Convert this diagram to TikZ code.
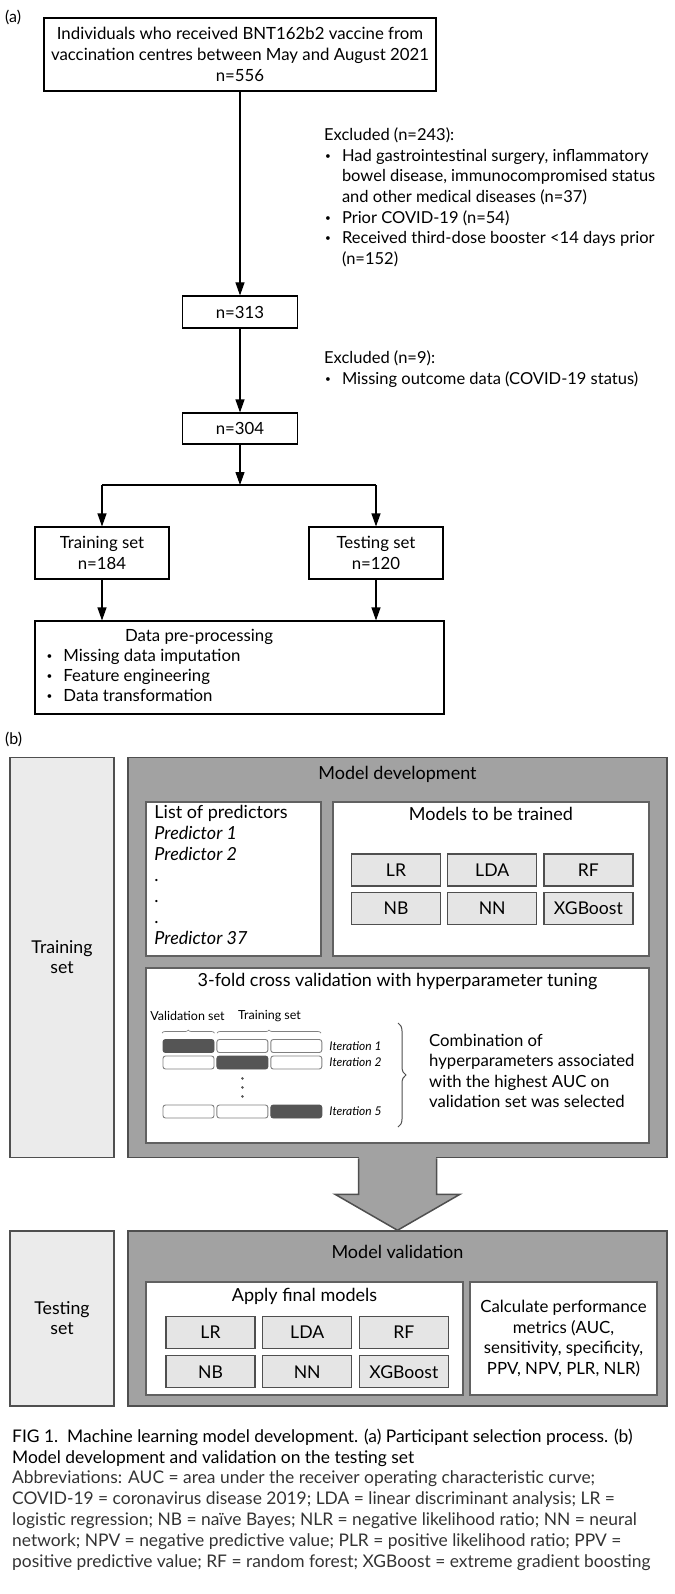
\documentclass[tikz,border=0pt]{standalone}
\usepackage{fontspec}
\setmainfont{Lato}
\usetikzlibrary{arrows.meta,positioning,decorations.pathreplacing}

\definecolor{linegray}{HTML}{4F4F4F}
\definecolor{panelgray}{HTML}{A2A2A2}
\definecolor{sidegray}{HTML}{EBEBEB}
\definecolor{cellgray}{HTML}{E5E5E5}
\definecolor{foldgray}{HTML}{555555}

\newcommand{\listdot}{\raisebox{1.8pt}{\fontsize{10}{10}\selectfont\textbullet}}

\tikzset{
  flowbox/.style={draw,line width=1.1pt,align=center,inner sep=0pt,font=\fontsize{16.8}{21}\selectfont},
  flowarrow/.style={line width=1.1pt,-{Triangle[length=13pt,width=9pt]}},
  sidebox/.style={draw=linegray,fill=sidegray,line width=1.5pt,minimum width=104pt,align=center,inner sep=0pt,font=\fontsize{17.7}{20}\selectfont},
  panelbox/.style={draw=linegray,fill=panelgray,line width=1.5pt,minimum width=539pt,inner sep=0pt},
  whitebox/.style={draw=linegray!90,fill=white,line width=1.5pt,inner sep=0pt},
  modelcell/.style={draw=linegray,fill=cellgray,line width=1.2pt,minimum width=89pt,minimum height=32pt,inner sep=0pt,font=\fontsize{17.6}{17.6}\selectfont},
  foldcell/.style={draw=gray,fill=white,rounded corners=2.5pt,line width=0.9pt,minimum width=51pt,minimum height=13pt,inner sep=0pt},
  foldval/.style={foldcell,fill=foldgray,draw=foldgray},
  itlabel/.style={anchor=west,inner sep=0pt,font=\fontsize{12}{13}\selectfont\itshape},
  boxtitle/.style={inner sep=0pt,font=\fontsize{18}{20}\selectfont}
}

\begin{document}
\begin{tikzpicture}[x=1pt,y=-1pt]
\useasboundingbox (0,0) rectangle (674,1594);

% (a) participant selection
\node[anchor=west,inner sep=0pt,font=\fontsize{16}{16}\selectfont] (lbla) at (5,17) {(a)};
\node[flowbox,minimum width=392pt,minimum height=73pt] (start) at (240,54.5) {Individuals who received BNT162b2 vaccine from\\vaccination centres between May and August 2021\\n=556};
\node[flowbox,minimum width=115pt,minimum height=32pt] (count1) at (240,312) {n=313};
\node[flowbox,minimum width=115pt,minimum height=31pt] (count2) at (240,428.5) {n=304};
\coordinate (split) at (240,485);
\node[flowbox,minimum width=134pt,minimum height=52pt] (trainset) at (102,553) {Training set\\n=184};
\node[flowbox,minimum width=134pt,minimum height=52pt] (testset) at (376,553) {Testing set\\n=120};
\node[flowbox,minimum width=409pt,minimum height=93pt] (preproc) at (239.5,667.5) {};
\node[inner sep=0pt,font=\fontsize{16.8}{21}\selectfont] (preproctitle) at ([xshift=-40.5pt,yshift=-16pt]preproc.north) {Data pre-processing};
\node[anchor=north west,inner sep=0pt,font=\fontsize{16.8}{20}\selectfont] (preproclist) at ([xshift=12pt,yshift=-27pt]preproc.north west)
  {\begin{tabular}{@{}c@{\hspace{11pt}}l@{}}
   \listdot & Missing data imputation\\
   \listdot & Feature engineering\\
   \listdot & Data transformation
   \end{tabular}};

\node[anchor=north west,inner sep=0pt,font=\fontsize{16.5}{20.6}\selectfont] (excl1) at (324,126)
  {\begin{tabular}{@{\hspace{1pt}}c@{\hspace{11pt}}l@{}}
   \multicolumn{2}{@{}l@{}}{Excluded (n=243):}\\
   \listdot & Had gastrointestinal surgery, inflammatory\\
   & bowel disease, immunocompromised status\\
   & and other medical diseases (n=37)\\
   \listdot & Prior COVID-19 (n=54)\\
   \listdot & Received third-dose booster <14 days prior\\
   & (n=152)
   \end{tabular}};
\node[anchor=north west,inner sep=0pt,font=\fontsize{16.5}{20.6}\selectfont] (excl2) at (324,349)
  {\begin{tabular}{@{\hspace{1pt}}c@{\hspace{11pt}}l@{}}
   \multicolumn{2}{@{}l@{}}{Excluded (n=9):}\\
   \listdot & Missing outcome data (COVID-19 status)
   \end{tabular}};

\path[flowarrow]
  (start) edge (count1)
  (count1) edge (count2);
\draw[flowarrow] (count2) -- (split);
\draw[line width=1.1pt] (trainset.north |- split) -- (testset.north |- split);
\draw[flowarrow] (trainset.north |- split) -- (trainset);
\draw[flowarrow] (testset.north |- split) -- (testset);
\draw[flowarrow] (trainset) -- (trainset.south |- preproc.north);
\draw[flowarrow] (testset) -- (testset.south |- preproc.north);

% (b) model development
\node[anchor=west,inner sep=0pt,font=\fontsize{16}{16}\selectfont] (lblb) at (5,739) {(b)};
\node[sidebox,minimum height=400pt] (trainside) at (62,957.5) {Training\\set};
\node[panelbox,minimum height=400pt] (devbox) at (397.5,957.5) {};
\node[boxtitle] (devtitle) at ([yshift=-18pt]devbox.north) {Model development};

\node[whitebox,minimum width=175pt,minimum height=154pt] (predbox) at (233.5,879) {};
\node[anchor=north west,inner sep=0pt,font=\fontsize{18}{21}\selectfont] (predlist) at ([xshift=9pt,yshift=-2.5pt]predbox.north west)
  {\begin{tabular}{@{}l@{}}
   List of predictors\\
   \textit{Predictor 1}\\
   \textit{Predictor 2}\\
   .\\
   .\\
   .\\
   \textit{Predictor 37}
   \end{tabular}};

\node[whitebox,minimum width=316pt,minimum height=154pt] (modbox) at (491,879) {};
\node[boxtitle] (modtitle) at ([yshift=-13pt]modbox.north) {Models to be trained};
\node[modelcell] (lr1) at (396,870) {LR};
\node[modelcell,right=6pt of lr1] (lda1) {LDA};
\node[modelcell,right=6pt of lda1] (rf1) {RF};
\node[modelcell,below=5pt of lr1] (nb1) {NB};
\node[modelcell,below=5pt of lda1] (nn1) {NN};
\node[modelcell,below=5pt of rf1] (xgb1) {XGBoost};

\node[whitebox,minimum width=503pt,minimum height=175pt] (cvbox) at (397.5,1055.5) {};
\node[boxtitle] (cvtitle) at ([yshift=-14pt]cvbox.north) {3-fold cross validation with hyperparameter tuning};
\node[font=\fontsize{12.5}{14}\selectfont,inner sep=0pt] (vallbl) at (187.5,1016) {Validation set};
\node[font=\fontsize{12.5}{14}\selectfont,inner sep=0pt] (trainlbl) at (269.5,1016) {Training set};
\draw[gray,line width=0.7pt,decorate,decoration={brace,amplitude=3pt}] (162,1033) -- (214.5,1033);
\draw[gray,line width=0.7pt,decorate,decoration={brace,amplitude=3pt}] (217,1033) -- (321,1033);

\node[foldval] (f11) at (188.5,1046) {};
\node[foldcell,right=2pt of f11] (f12) {};
\node[foldcell,right=2pt of f12] (f13) {};
\node[foldcell] (f21) at (188.5,1062.5) {};
\node[foldval,right=2pt of f21] (f22) {};
\node[foldcell,right=2pt of f22] (f23) {};
\node[foldcell] (f51) at (188.5,1111.5) {};
\node[foldcell,right=2pt of f51] (f52) {};
\node[foldval,right=2pt of f52] (f53) {};
\node[itlabel] at ([xshift=7pt]f13.east) {Iteration 1};
\node[itlabel] at ([xshift=7pt]f23.east) {Iteration 2};
\node[itlabel] at ([xshift=7pt]f53.east) {Iteration 5};
\fill[foldgray] ([yshift=-9pt]f22.south) circle (1.4pt);
\fill[foldgray] ([yshift=-18pt]f22.south) circle (1.4pt);
\fill[foldgray] ([yshift=-27pt]f22.south) circle (1.4pt);

\draw[linegray,line width=1pt,decorate,decoration={brace,amplitude=8pt}] (398,1023) -- (398,1127);
\node[anchor=north west,inner sep=0pt,font=\fontsize{16.7}{20.4}\selectfont] (combtext) at (429,1032)
  {\begin{tabular}{@{}l@{}}
   Combination of\\
   hyperparameters associated\\
   with the highest AUC on\\
   validation set was selected
   \end{tabular}};

% model validation
\node[sidebox,minimum height=175pt] (testside) at (62,1318.5) {Testing\\set};
\node[panelbox,minimum height=175pt] (valbox) at (397.5,1318.5) {};
\node[boxtitle] (valtitle) at ([yshift=-22pt]valbox.north) {Model validation};

\fill[panelgray] ([xshift=-38.3pt,yshift=2pt]devbox.south) rectangle ([xshift=38.3pt,yshift=-36pt]devbox.south);
\draw[linegray,line width=1.5pt,fill=panelgray] ([xshift=-39pt]devbox.south) -- ([xshift=-39pt,yshift=-36pt]devbox.south)
  -- ([xshift=-62.5pt,yshift=-36pt]devbox.south) -- (valbox.north)
  -- ([xshift=62.5pt,yshift=-36pt]devbox.south) -- ([xshift=39pt,yshift=-36pt]devbox.south)
  -- ([xshift=39pt]devbox.south);

\node[whitebox,minimum width=317pt,minimum height=113pt] (applybox) at (304.5,1338.5) {};
\node[boxtitle] (applytitle) at ([yshift=-15pt]applybox.north) {Apply final models};
\node[modelcell] (lr2) at (210.5,1332.5) {LR};
\node[modelcell,right=6.5pt of lr2] (lda2) {LDA};
\node[modelcell,right=6.5pt of lda2] (rf2) {RF};
\node[modelcell,below=6pt of lr2] (nb2) {NB};
\node[modelcell,below=6pt of lda2] (nn2) {NN};
\node[modelcell,below=6pt of rf2] (xgb2) {XGBoost};

\node[whitebox,minimum width=187pt,minimum height=113pt,align=center,font=\fontsize{16.8}{20.7}\selectfont] (calcbox) at (563.5,1338.5)
  {Calculate performance\\metrics (AUC,\\sensitivity, specificity,\\PPV, NPV, PLR, NLR)};

% caption
\node[anchor=north west,inner sep=0pt,align=left,font=\fontsize{17.4}{20.8}\selectfont] (caption) at (12,1428.5)
  {FIG 1.\ \ Machine learning model development. (a) Participant selection process. (b)\\
   Model development and validation on the testing set\\
   \color{black!80}Abbreviations: AUC = area under the receiver operating characteristic curve;\\
   \color{black!80}COVID-19 = coronavirus disease 2019; LDA = linear discriminant analysis; LR =\\
   \color{black!80}logistic regression; NB = naïve Bayes; NLR = negative likelihood ratio; NN = neural\\
   \color{black!80}network; NPV = negative predictive value; PLR = positive likelihood ratio; PPV =\\
   \color{black!80}positive predictive value; RF = random forest; XGBoost = extreme gradient boosting};

\end{tikzpicture}
\end{document}
